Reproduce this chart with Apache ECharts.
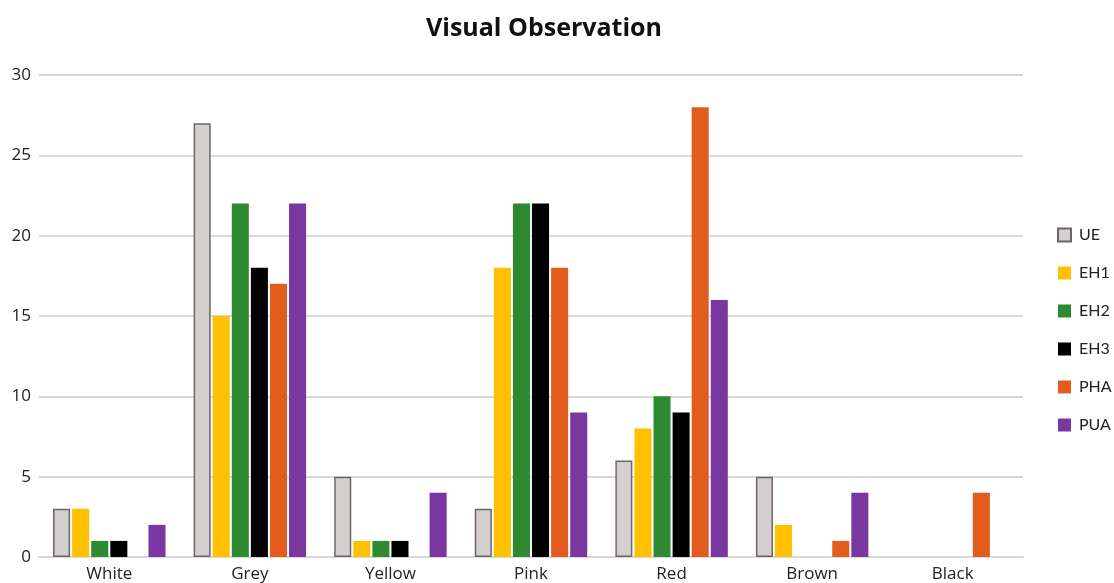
<!DOCTYPE html>
<html>
<head>
<meta charset="utf-8">
<script src="https://cdn.jsdelivr.net/npm/echarts@6/dist/echarts.min.js"></script>
<style>
  html, body { margin: 0; padding: 0; background: #fff; }
  #chart { width: 1114px; height: 583px; }
</style>
</head>
<body>
<div id="chart"></div>
<script>
// Colour categories observed per treatment group
const categories = ['White', 'Grey', 'Yellow', 'Pink', 'Red', 'Brown', 'Black'];
const seriesNames = ['UE', 'EH1', 'EH2', 'EH3', 'PHA', 'PUA'];

const UE  = [3, 27, 5, 3, 6, 5, 0];
const EH1 = [3, 15, 1, 18, 8, 2, 0];
const EH2 = [1, 22, 1, 22, 10, 0, 0];
const EH3 = [1, 18, 1, 22, 9, 0, 0];
const PHA = [0, 17, 0, 18, 28, 1, 4];
const PUA = [2, 22, 4, 9, 16, 4, 0];

const yTicks = { min: 0, max: 30, interval: 5 };

const values = [UE, EH1, EH2, EH3, PHA, PUA];
const colors = ['#D3D0CF', '#FFC000', '#2E8A30', '#000000', '#E45B1E', '#7A37A0'];

const font = '"Open Sans", "Noto Sans", sans-serif';
const legendFont = 'Lato, "Open Sans", sans-serif';

const chart = echarts.init(document.getElementById('chart'), null, { renderer: 'canvas' });

const series = seriesNames.map((name, i) => ({
  name,
  type: 'bar',
  data: values[i].map(v => (v === 0 ? null : v)),
  barGap: '12%',
  barCategoryGap: '20%',
  itemStyle: i === 0
    ? { color: colors[i], borderColor: '#6E6666', borderWidth: 1.5 }
    : { color: colors[i] },
  emphasis: { disabled: true }
}));

chart.setOption({
  animation: false,
  backgroundColor: '#ffffff',
  title: {
    text: 'Visual Observation',
    left: 539,
    textAlign: 'center',
    top: 11,
    textStyle: { fontFamily: font, fontSize: 25, fontWeight: 'bold', color: '#111' }
  },
  legend: {
    orient: 'vertical',
    left: 1052,
    top: 222,
    itemWidth: 13,
    itemHeight: 13,
    itemGap: 22,
    icon: 'rect',
    textStyle: { fontFamily: legendFont, fontSize: 16, color: '#222', padding: [0, 0, 0, 3] },
    data: seriesNames
  },
  grid: { left: 39, right: 91, top: 75, bottom: 26, containLabel: false },
  xAxis: {
    type: 'category',
    data: categories,
    axisLine: { show: true, lineStyle: { color: '#d9d9d9', width: 2 } },
    axisTick: { show: false },
    axisLabel: { fontFamily: font, fontSize: 17, color: '#222', margin: 9 }
  },
  yAxis: {
    type: 'value',
    min: yTicks.min,
    max: yTicks.max,
    interval: yTicks.interval,
    axisLine: { show: false },
    axisTick: { show: false },
    splitLine: { lineStyle: { color: '#d9d9d9', width: 2 } },
    axisLabel: { fontFamily: font, fontSize: 17, color: '#222', margin: 8 }
  },
  series
});
</script>
</body>
</html>
